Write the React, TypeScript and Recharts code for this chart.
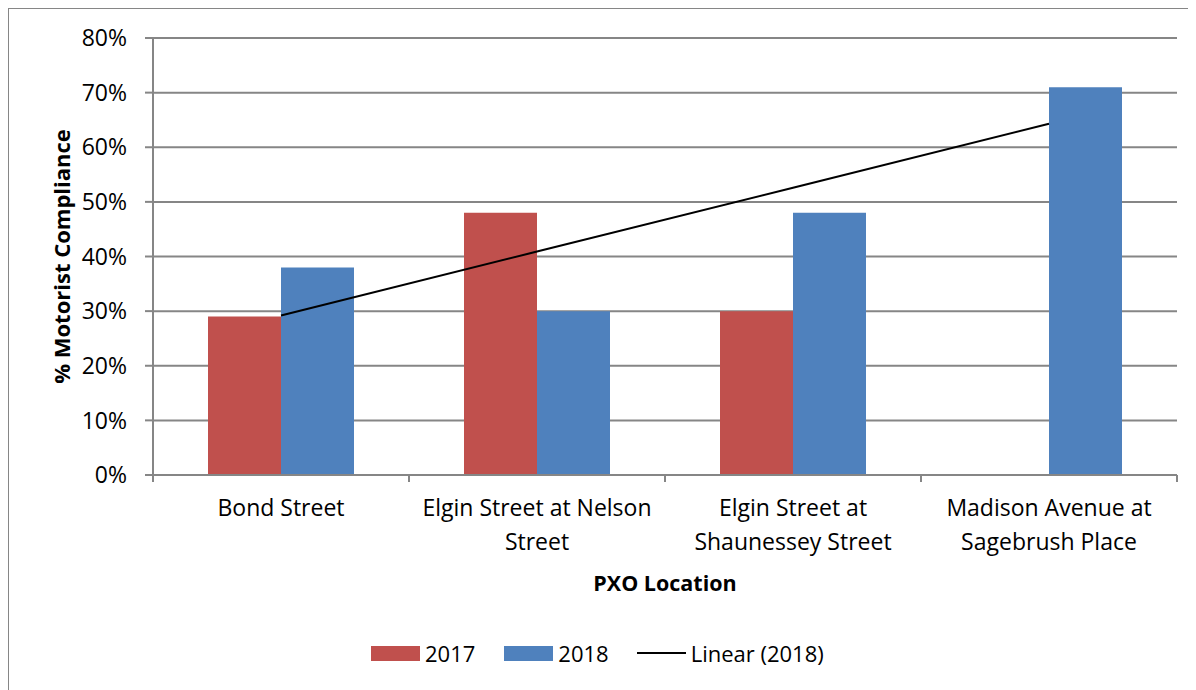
import React from 'react';
import {
  ComposedChart,
  Bar,
  Line,
  XAxis,
  YAxis,
  CartesianGrid,
  Legend,
} from 'recharts';

const locations = [
  'Bond Street',
  'Elgin Street at Nelson Street',
  'Elgin Street at Shaunessey Street',
  'Madison Avenue at Sagebrush Place',
];
const compliance2017: (number | null)[] = [29, 48, 30, null];
const compliance2018 = [38, 30, 48, 71];
const percentTicks = [0, 10, 20, 30, 40, 50, 60, 70, 80];

// least squares fit of the 2018 values, like Excel's "Linear" trendline
const n = compliance2018.length;
const meanX = (n + 1) / 2;
const meanY = compliance2018.reduce((s, v) => s + v, 0) / n;
const slope =
  compliance2018.reduce((s, v, i) => s + (i + 1 - meanX) * (v - meanY), 0) /
  compliance2018.reduce((s, _v, i) => s + (i + 1 - meanX) ** 2, 0);
const intercept = meanY - slope * meanX;

const data = locations.map((name, i) => ({
  name,
  y2017: compliance2017[i],
  y2018: compliance2018[i],
  trend: intercept + slope * (i + 1),
}));

const FONT = '"Open Sans", sans-serif';
const GREY = '#868686';
const RED = '#C0504D';
const BLUE = '#4F81BD';

const wrapLabel = (text: string, maxChars: number) => {
  const lines: string[] = [];
  let cur = '';
  text.split(' ').forEach((w) => {
    const next = cur ? cur + ' ' + w : w;
    if (next.length > maxChars && cur) {
      lines.push(cur);
      cur = w;
    } else {
      cur = next;
    }
  });
  if (cur) lines.push(cur);
  return lines;
};

const CategoryTick = (props: any) => {
  const { x, y, payload, index, visibleTicksCount } = props;
  const half = typeof payload.offset === 'number' && payload.offset > 0 ? payload.offset : 128;
  const axisY = y - 7;
  const lines = wrapLabel(String(payload.value), 22);
  return (
    <g>
      <line x1={x - half} x2={x - half} y1={axisY} y2={axisY + 7} stroke={GREY} strokeWidth={2} />
      {index === visibleTicksCount - 1 && (
        <line x1={x + half} x2={x + half} y1={axisY} y2={axisY + 7} stroke={GREY} strokeWidth={2} />
      )}
      <text x={x} y={y} textAnchor="middle" fill="#000" fontSize={23} fontFamily={FONT}>
        {lines.map((l, i) => (
          <tspan key={i} x={x} y={y + 34 + i * 34}>
            {l}
          </tspan>
        ))}
      </text>
    </g>
  );
};

const LegendContent = () => {
  const item = (swatch: React.ReactNode, label: string, gap: number) => (
    <div style={{ display: 'flex', alignItems: 'center', marginRight: gap }}>
      {swatch}
      <span style={{ marginLeft: 5, fontSize: 22, color: '#000', fontFamily: FONT }}>{label}</span>
    </div>
  );
  return (
    <div style={{ display: 'flex', alignItems: 'center', height: 30 }}>
      {item(<div style={{ width: 49, height: 15, background: RED }} />, '2017', 29)}
      {item(<div style={{ width: 49, height: 15, background: BLUE }} />, '2018', 28)}
      {item(<div style={{ width: 49, height: 2, background: '#000' }} />, 'Linear (2018)', 0)}
    </div>
  );
};

const App: React.FC = () => {
  return (
    <div style={{ position: 'relative', width: 1188, height: 682, fontFamily: FONT }}>
      <div
        style={{
          position: 'absolute',
          left: -1,
          top: -1,
          width: 1190,
          height: 684,
          borderLeft: `2px solid ${GREY}`,
          borderTop: `2px solid ${GREY}`,
          boxSizing: 'border-box',
          pointerEvents: 'none',
        }}
      />
      <ComposedChart
        width={1188}
        height={682}
        data={data}
        margin={{ top: 30, right: 19, left: 0, bottom: 55 }}
        barCategoryGap={55}
        barGap={0}
      >
        <CartesianGrid vertical={false} stroke={GREY} strokeWidth={2} />
        <XAxis
          dataKey="name"
          interval={0}
          height={130}
          tickLine={false}
          tickSize={7}
          tickMargin={0}
          axisLine={{ stroke: GREY, strokeWidth: 2 }}
          tick={<CategoryTick />}
          label={{
            value: 'PXO Location',
            position: 'insideTop',
            offset: 101,
            fontSize: 21.5,
            fontWeight: 700,
            fill: '#000',
            fontFamily: FONT,
          }}
        />
        <YAxis
          width={145}
          domain={[0, 80]}
          ticks={percentTicks}
          tickFormatter={(v: number) => `${v}%`}
          tickSize={8}
          tickMargin={18}
          tickLine={{ stroke: GREY, strokeWidth: 2 }}
          axisLine={{ stroke: GREY, strokeWidth: 2 }}
          tick={{ fill: '#000', fontSize: 23, fontFamily: FONT }}
          label={{
            value: '% Motorist Compliance',
            angle: -90,
            position: 'insideLeft',
            offset: 54,
            fontSize: 22,
            fontWeight: 700,
            fill: '#000',
            fontFamily: FONT,
            style: { textAnchor: 'middle' },
          }}
        />
        <Legend
          verticalAlign="bottom"
          content={<LegendContent />}
          wrapperStyle={{ top: 630, bottom: 'auto', left: 363, width: 'auto', height: 30 }}
        />
        <Bar dataKey="y2017" name="2017" fill={RED} isAnimationActive={false} />
        <Bar dataKey="y2018" name="2018" fill={BLUE} isAnimationActive={false} />
        <Line
          dataKey="trend"
          name="Linear (2018)"
          stroke="#000"
          strokeWidth={2}
          dot={false}
          activeDot={false}
          type="linear"
          isAnimationActive={false}
        />
      </ComposedChart>
    </div>
  );
};

export default App;
